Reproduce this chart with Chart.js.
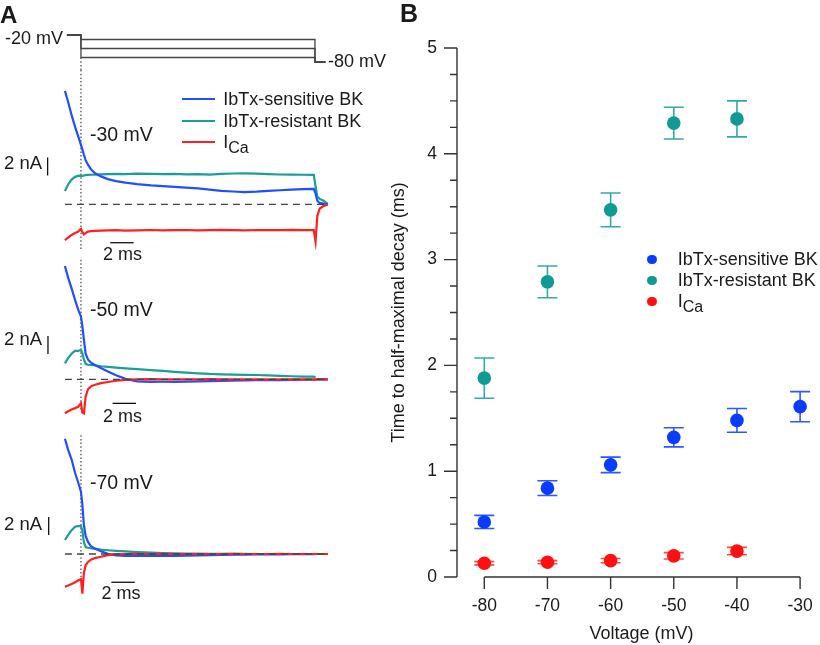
<!DOCTYPE html>
<html>
<head>
<meta charset="utf-8">
<title>BK and Ca current decay</title>
<script src="https://cdn.jsdelivr.net/npm/chart.js@4.4.1/dist/chart.umd.min.js"></script>
<style>
  html, body { margin:0; padding:0; background:#fff; }
  body { position:relative; width:820px; height:645px; overflow:hidden;
         font-family:"Liberation Sans", Arial, Helvetica, sans-serif; color:#1a1a1a; }
  canvas { position:absolute; }
  .lbl { position:absolute; white-space:nowrap; line-height:1; transform:translateY(-50%); font-size:18px; }
  .ctr { transform:translate(-50%,-50%); }
  .panel { font-weight:bold; }
  .swatch { position:absolute; height:2.5px; }
  .dot { position:absolute; border-radius:50%; width:9.4px; height:9.4px; }
  .sub { font-size:16px; position:relative; top:5px; }
</style>
</head>
<body>
<canvas id="cProt" width="340" height="45" style="left:0;top:25px"></canvas>
<canvas id="c30" width="340" height="180" style="left:0;top:70px"></canvas>
<canvas id="c50" width="340" height="170" style="left:0;top:250px"></canvas>
<canvas id="c70" width="340" height="190" style="left:0;top:420px"></canvas>
<canvas id="cB" width="460" height="645" style="left:380px;top:0"></canvas>

<div class="lbl panel" style="left:0;top:14.7px;font-size:24px">A</div>
<div class="lbl panel" style="left:400px;top:12.5px;font-size:25px">B</div>

<div class="lbl" style="left:5px;top:38px">-20 mV</div>
<div class="lbl" style="left:328px;top:61px">-80 mV</div>

<div class="swatch" style="left:181.7px;top:97.8px;width:33.3px;background:#1f4fff"></div>
<div class="swatch" style="left:181.7px;top:119.5px;width:33.3px;background:#1a9e97"></div>
<div class="swatch" style="left:181.7px;top:140.8px;width:33.3px;background:#ff1f1f"></div>
<div class="lbl" style="left:223.3px;top:99px">IbTx-sensitive BK</div>
<div class="lbl" style="left:223.3px;top:120.7px">IbTx-resistant BK</div>
<div class="lbl" style="left:223.3px;top:142px">I<span class="sub">Ca</span></div>

<div class="lbl" style="left:90px;top:135px;font-size:19.5px">-30 mV</div>
<div class="lbl" style="left:90px;top:310px;font-size:19.5px">-50 mV</div>
<div class="lbl" style="left:90px;top:483.3px;font-size:19.5px">-70 mV</div>

<div class="lbl" style="left:4px;top:163px;font-size:18.5px">2 nA</div>
<div class="lbl" style="left:4px;top:338.5px;font-size:18.5px">2 nA</div>
<div class="lbl" style="left:4px;top:524px;font-size:18.5px">2 nA</div>

<div class="lbl ctr" style="left:122.5px;top:254px">2 ms</div>
<div class="lbl ctr" style="left:122.5px;top:415.5px">2 ms</div>
<div class="lbl ctr" style="left:121px;top:593px">2 ms</div>

<div class="dot" style="left:647.3px;top:254.6px;background:#0a3cff"></div>
<div class="dot" style="left:647.3px;top:275.6px;background:#0f9b94"></div>
<div class="dot" style="left:647.3px;top:296.6px;background:#ff1010"></div>
<div class="lbl" style="left:677.7px;top:259.3px">IbTx-sensitive BK</div>
<div class="lbl" style="left:677.7px;top:280.3px">IbTx-resistant BK</div>
<div class="lbl" style="left:677.7px;top:301.3px">I<span class="sub">Ca</span></div>

<script>
// ================= DATA =================
// Panel A: voltage protocol (mV) and times (ms)
const holdingMv = -20;
const stepMv = [-30, -50, -70];
const returnMv = -80;
const protocolTimes = [-1.2, 0, 20, 20.9];   // trace start, step on, step off, trace end

// Panel A: current traces (nA) sampled at these times (ms)
const traceTimes = [-1.37,-1.1,-0.8,-0.5,-0.25,0,0.12,0.25,0.4,0.6,0.85,1.2,1.7,2.3,3.0,3.8,4.8,6,7,8,9,10,11,12,13,14,15,16,17,18,19,19.9,20.05,20.2,20.4,20.7,21.1];

const sens30 = [12.6,11.4,9.9,8.6,7.6,6.6,6.1,5.5,4.9,4.4,3.9,3.45,3.1,2.8,2.58,2.4,2.24,2.1,2.02,1.93,1.86,1.76,1.62,1.5,1.42,1.36,1.4,1.5,1.56,1.62,1.68,1.72,1.2,0.4,0.15,0.08,0];
const res30  = [1.48,2.2,2.75,3.05,3.15,3.18,3.15,3.2,3.24,3.26,3.28,3.3,3.33,3.36,3.38,3.35,3.4,3.37,3.34,3.38,3.32,3.36,3.3,3.37,3.42,3.44,3.4,3.36,3.31,3.3,3.28,3.26,2.0,0.85,0.6,0.42,0.05];
const ica30  = [-3.97,-3.7,-3.41,-3.2,-3.04,-2.74,-3.1,-3.35,-3.2,-3.04,-2.98,-2.95,-2.92,-2.9,-2.88,-2.92,-2.9,-2.86,-2.9,-2.88,-2.86,-2.9,-2.87,-2.85,-2.88,-2.9,-2.86,-2.88,-2.87,-2.85,-2.88,-2.88,-4.15,-1.3,-0.5,-0.2,-0.03];

const sens50 = [12.6,11.3,10.1,8.8,7.8,6.96,5.9,4.4,2.85,2.2,1.85,1.59,1.25,0.88,0.45,0.05,-0.22,-0.28,-0.27,-0.28,-0.25,-0.22,-0.2,-0.18,-0.15,-0.12,-0.1,-0.1,-0.08,-0.07,-0.05,-0.05,-0.03,0,0.02,0,0];
const res50  = [1.78,2.35,2.85,3.18,3.15,3.28,2.9,2.2,1.72,1.62,1.59,1.55,1.45,1.38,1.3,1.22,1.14,1.03,0.93,0.83,0.75,0.67,0.6,0.56,0.53,0.5,0.48,0.43,0.38,0.34,0.31,0.29,0.2,null,null,null,null];
const ica50  = [-3.77,-3.55,-3.35,-3.2,-3.05,-2.67,-3.7,-3.8,-1.9,-1.1,-0.78,-0.6,-0.43,-0.3,-0.16,-0.07,0,0.02,0,0.01,-0.01,0,0.02,0,-0.01,0.01,0,0,0.01,0,0,0.01,0,0,0,0,0];

const sens70 = [12.8,11.6,10.5,9.0,8.0,6.92,5.5,3.2,2.0,1.35,0.88,0.6,0.3,0.02,-0.15,-0.22,-0.22,-0.22,-0.2,-0.2,-0.18,-0.15,-0.13,-0.1,-0.08,-0.06,-0.05,-0.04,-0.03,-0.02,-0.02,-0.01,0,0,0,0,0];
const res70  = [1.56,2.1,2.65,3.03,3.1,3.11,2.6,1.3,0.78,0.7,0.64,0.57,0.48,0.42,0.35,0.29,0.22,0.15,0.1,0.07,0.05,0.03,0.02,0.02,0.01,0.01,0,0,0,0,0,0,0,0,0,0,0];
const ica70  = [-3.63,-3.5,-3.33,-3.15,-2.95,-2.8,-4.4,-2.1,-1.25,-0.88,-0.62,-0.45,-0.3,-0.12,-0.04,0,0.01,0,0.01,0,0,0.01,0,0,0.01,0,0,0,0.01,0,0,0,0,0,0,0,0];

const scaleBarNa = 2;   // nA
const scaleBarMs = 2;   // ms

// Panel B: time to half-maximal decay (ms) vs voltage (mV)
const voltages  = [-80, -70, -60, -50, -40, -30];
const tauSens   = [0.52, 0.84, 1.06, 1.32, 1.48, 1.61];
const semSens   = [0.062, 0.07, 0.073, 0.09, 0.112, 0.142];
const tauRes    = [1.88, 2.79, 3.47, 4.29, 4.33];
const semRes    = [0.19, 0.15, 0.16, 0.15, 0.17];
const tauCa     = [0.13, 0.14, 0.155, 0.20, 0.245];
const semCa     = [0.015, 0.015, 0.02, 0.03, 0.035];
const voltageTicks = [-80, -70, -60, -50, -40, -30];
const timeTicks    = [0, 1, 2, 3, 4, 5];
const timeMinorStep = 0.25;

// ================= STYLE / LAYOUT =================
const FONT = '"Liberation Sans", Arial, Helvetica, sans-serif';
const TEXT = '#1a1a1a';
const AXIS = '#333333';
const COL = {
  sens: '#0a3cff', res: '#0f9b94', ca: '#ff1010',
  sensErr: '#2c58ff', resErr: '#35aaa4', caErr: '#ff4a4a',
  trSens: '#1f4fff', trRes: '#1a9e97', trCa: '#ff1f1f'
};
const A_T = { min: -6.92, max: 22.14 };   // ms range of the panel-A canvases

const base = {
  responsive: false, animation: false, devicePixelRatio: 1,
  events: [],
  plugins: { legend: { display: false }, tooltip: { enabled: false } },
  layout: { padding: 0 }
};

function xy(ts, vs) {
  const out = [];
  ts.forEach((t, i) => { if (vs[i] !== null && vs[i] !== undefined) out.push({ x: t, y: vs[i] }); });
  return out;
}
function lineDs(data, color, width, dash) {
  return { data, borderColor: color, borderWidth: width, borderDash: dash || [],
           pointRadius: 0, tension: 0, fill: false, spanGaps: false };
}
function hiddenScales(yMin, yMax) {
  return {
    x: { type: 'linear', display: false, min: A_T.min, max: A_T.max },
    y: { type: 'linear', display: false, min: yMin, max: yMax }
  };
}

// ---- voltage protocol ----
(function () {
  const yMin = -97.8, yMax = 2.2;
  const ds = stepMv.map(v => lineDs([
    { x: protocolTimes[0], y: holdingMv }, { x: protocolTimes[1], y: holdingMv },
    { x: protocolTimes[1], y: v }, { x: protocolTimes[2], y: v },
    { x: protocolTimes[2], y: returnMv }, { x: protocolTimes[3], y: returnMv }
  ], '#444', 1.3));
  ds.push(lineDs([{ x: 0, y: Math.min(...stepMv) }, { x: 0, y: yMin }], '#333', 1.1, [1.5, 2.2]));
  new Chart(document.getElementById('cProt'), {
    type: 'line', data: { datasets: ds },
    options: Object.assign({}, base, { scales: hiddenScales(yMin, yMax) })
  });
})();

// ---- current traces ----
const tracePanels = [
  { id: 'c30', sens: sens30, res: res30, ica: ica30, yMin: -5.08, yMax: 14.92, dotted: [14.92, -5.08],
    naBar: { t: -2.85, y0: 3.2 }, msBar: { t0: 2.5, y: -4.27 } },
  { id: 'c50', sens: sens50, res: res50, ica: ica50, yMin: -4.52, yMax: 14.37, dotted: [13.3, -3.5],
    naBar: { t: -2.82, y0: 2.8 }, msBar: { t0: 2.7, y: -2.67 } },
  { id: 'c70', sens: sens70, res: res70, ica: ica70, yMin: -6.22, yMax: 14.89, dotted: [13.2, -2.9],
    naBar: { t: -2.76, y0: 2.1 }, msBar: { t0: 2.6, y: -3.14 } }
];

tracePanels.forEach(p => {
  const t0 = traceTimes[0], t1 = traceTimes[traceTimes.length - 1];
  const datasets = [
    lineDs([{ x: t0, y: 0 }, { x: t1, y: 0 }], '#444', 1.3, [7, 5]),               // baseline
    lineDs(xy(traceTimes, p.ica), COL.trCa, 2.2),
    lineDs(xy(traceTimes, p.sens), COL.trSens, 2.2),
    lineDs(xy(traceTimes, p.res), COL.trRes, 2.2),
    lineDs([{ x: 0, y: p.dotted[0] }, { x: 0, y: p.dotted[1] }], '#333', 1.1, [1.5, 2.2]), // step onset
    lineDs([{ x: p.naBar.t, y: p.naBar.y0 }, { x: p.naBar.t, y: p.naBar.y0 + scaleBarNa }], '#111', 1.3),
    lineDs([{ x: p.msBar.t0, y: p.msBar.y }, { x: p.msBar.t0 + scaleBarMs, y: p.msBar.y }], '#111', 1.3)
  ];
  new Chart(document.getElementById(p.id), {
    type: 'line', data: { datasets },
    options: Object.assign({}, base, { scales: hiddenScales(p.yMin, p.yMax) })
  });
});

// ---- Panel B ----
const CAP = 10;
const errorBars = {
  id: 'errorBars',
  beforeDatasetsDraw(chart) {
    const { ctx, scales: { x, y } } = chart;
    chart.data.datasets.forEach(ds => {
      ctx.save();
      ctx.strokeStyle = ds.errorColor; ctx.lineWidth = 1.6;
      ds.data.forEach((p, i) => {
        const e = ds.errors[i];
        const px = x.getPixelForValue(p.x);
        const top = y.getPixelForValue(p.y + e), bot = y.getPixelForValue(p.y - e);
        ctx.beginPath();
        ctx.moveTo(px, top); ctx.lineTo(px, bot);
        ctx.moveTo(px - CAP, top); ctx.lineTo(px + CAP, top);
        ctx.moveTo(px - CAP, bot); ctx.lineTo(px + CAP, bot);
        ctx.stroke();
      });
      ctx.restore();
    });
  }
};
const detachedAxes = {
  id: 'detachedAxes',
  afterDraw(chart) {
    const { ctx, chartArea, scales: { x, y } } = chart;
    ctx.save();
    ctx.strokeStyle = AXIS; ctx.lineWidth = 1.4; ctx.lineCap = 'butt';
    const yMin = timeTicks[0], yMax = timeTicks[timeTicks.length - 1];
    const ax = chartArea.left;
    ctx.beginPath();
    ctx.moveTo(ax, y.getPixelForValue(yMax)); ctx.lineTo(ax, y.getPixelForValue(yMin));
    const nMinor = Math.round((yMax - yMin) / timeMinorStep);
    for (let k = 0; k <= nMinor; k++) {
      const v = yMin + k * timeMinorStep;
      const major = timeTicks.includes(v);
      const py = y.getPixelForValue(v);
      ctx.moveTo(ax, py); ctx.lineTo(ax - (major ? 13 : 7), py);
    }
    const ay = chartArea.bottom;
    ctx.moveTo(x.getPixelForValue(voltageTicks[0]), ay);
    ctx.lineTo(x.getPixelForValue(voltageTicks[voltageTicks.length - 1]), ay);
    voltageTicks.forEach(v => {
      const px = x.getPixelForValue(v);
      ctx.moveTo(px, ay); ctx.lineTo(px, ay + 12);
    });
    ctx.stroke();
    ctx.restore();
  }
};

function pts(vs, ts) { return ts.map((t, i) => ({ x: vs[i], y: t })); }
function scatterDs(label, data, errors, color, errorColor) {
  return { label, data, errors, errorColor, backgroundColor: color, borderColor: color,
           pointRadius: 6.8, pointBorderWidth: 0, showLine: false };
}

new Chart(document.getElementById('cB'), {
  type: 'scatter',
  data: { datasets: [
    scatterDs('IbTx-sensitive BK', pts(voltages, tauSens), semSens, COL.sens, COL.sensErr),
    scatterDs('IbTx-resistant BK', pts(voltages, tauRes), semRes, COL.res, COL.resErr),
    scatterDs('ICa', pts(voltages, tauCa), semCa, COL.ca, COL.caErr)
  ]},
  options: Object.assign({}, base, {
    layout: { padding: { left: 0, top: 48, right: 14, bottom: 0 } },
    scales: {
      x: {
        type: 'linear', min: -84.32, max: -25.9,
        afterBuildTicks: s => { s.ticks = voltageTicks.map(v => ({ value: v })); },
        afterFit: s => { s.height = 68; },
        grid: { display: false, drawTicks: false }, border: { display: false },
        ticks: { padding: 19, color: TEXT, font: { family: FONT, size: 17.5 }, maxRotation: 0, autoSkip: false },
        title: { display: true, text: 'Voltage (mV)', color: TEXT, font: { family: FONT, size: 18 }, padding: { top: 0, bottom: 0 } }
      },
      y: {
        type: 'linear', min: 0, max: 5,
        afterBuildTicks: s => { s.ticks = timeTicks.map(v => ({ value: v })); },
        afterFit: s => { s.width = 77; },
        grid: { display: false, drawTicks: false }, border: { display: false },
        ticks: { padding: 20, color: TEXT, font: { family: FONT, size: 17.5 } },
        title: { display: true, text: 'Time to half-maximal decay (ms)', color: TEXT, font: { family: FONT, size: 18 }, padding: { top: 8, bottom: 0 } }
      }
    }
  }),
  plugins: [errorBars, detachedAxes]
});
</script>
</body>
</html>
